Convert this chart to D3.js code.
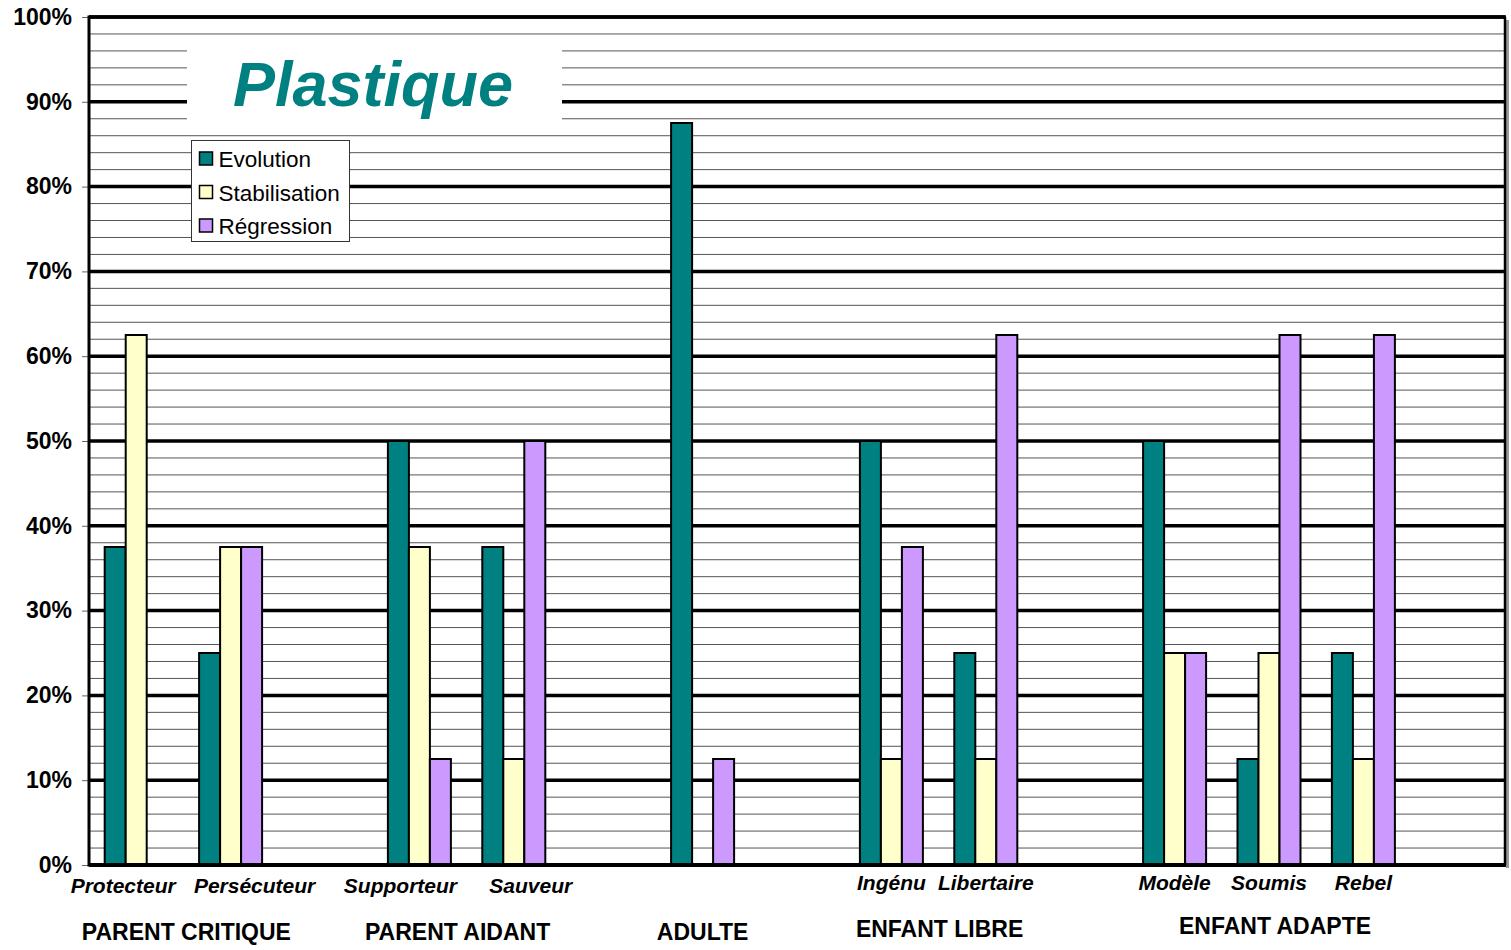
<!DOCTYPE html>
<html>
<head>
<meta charset="utf-8">
<script src="https://cdn.jsdelivr.net/npm/d3@7"></script>
<style>
  body { margin: 0; background: #fff; }
  text { font-family: Arial, "Liberation Sans", sans-serif; }
</style>
</head>
<body>
<script>
// slots along the x axis, "" = empty spacer slot (or no label)
var categories = ["Protecteur", "Persécuteur", "", "Supporteur", "Sauveur", "", "", "",
                  "Ingénu", "Libertaire", "", "Modèle", "Soumis", "Rebel", ""];
var evolution =     [37.5, 25,   null, 50,   37.5, null, 87.5, null, 50,   25,   null, 50, 12.5, 25,   null];
var stabilisation = [62.5, 37.5, null, 37.5, 12.5, null, 0,    null, 12.5, 12.5, null, 25, 25,   12.5, null];
var regression =    [0,    37.5, null, 12.5, 50,   null, 12.5, null, 37.5, 62.5, null, 25, 62.5, 62.5, null];

var seriesNames = ["Evolution", "Stabilisation", "Régression"];
var seriesColors = ["#008080", "#FFFFCC", "#CC99FF"];

var groupNames = ["PARENT CRITIQUE", "PARENT AIDANT", "ADULTE", "ENFANT LIBRE", "ENFANT ADAPTE"];
var groupFirst = [0, 3, 6, 8, 11];
var groupLast =  [1, 4, 6, 9, 13];

var yTicks = [0, 10, 20, 30, 40, 50, 60, 70, 80, 90, 100];
var title = "Plastique";

chart();

function chart()
{
    var width = 1511,
        height = 950;
    var left = 89, right = 1505, top = 17, bottom = 865;

    var svg = d3.select("body").append("svg")
        .attr("width", width)
        .attr("height", height);

    var x = d3.scaleBand()
        .domain(d3.range(categories.length))
        .range([left, right])
        .paddingInner(0.3326)
        .paddingOuter(0.1663);
    var xs = d3.scaleBand()
        .domain(seriesNames)
        .range([0, x.bandwidth()]);
    var y = d3.scaleLinear()
        .domain([0, 100])
        .range([bottom, top]);

    // shadow on the right of the plot area
    svg.append("rect")
        .attr("x", right + 1).attr("y", top + 3)
        .attr("width", 3).attr("height", bottom - top)
        .attr("fill", "#999");

    // minor gridlines every 2%
    svg.append("g").selectAll("line")
        .data(d3.range(2, 100, 2).filter(function (d) { return d % 10 != 0; }))
        .enter().append("line")
        .attr("x1", left).attr("x2", right)
        .attr("y1", function (d) { return y(d); })
        .attr("y2", function (d) { return y(d); })
        .attr("stroke", "#555")
        .attr("stroke-width", 1);

    // major gridlines
    svg.append("g").selectAll("line")
        .data(yTicks.slice(1))
        .enter().append("line")
        .attr("x1", left).attr("x2", right)
        .attr("y1", function (d) { return y(d); })
        .attr("y2", function (d) { return y(d); })
        .attr("stroke", "#000")
        .attr("stroke-width", 3.5);

    // y axis
    var yAxis = d3.axisLeft(y)
        .tickValues(yTicks)
        .tickSize(7)
        .tickPadding(10)
        .tickFormat(function (d) { return d + "%"; });
    var ya = svg.append("g")
        .attr("transform", "translate(" + left + ",0)")
        .call(yAxis);
    ya.select(".domain").remove();
    ya.selectAll(".tick line").attr("stroke", "#666");
    ya.selectAll(".tick text")
        .attr("font-size", 23)
        .attr("font-weight", "bold")
        .attr("font-family", "Arial, 'Liberation Sans', sans-serif")
        .attr("fill", "#000");

    // bars
    var series = [evolution, stabilisation, regression];
    series.forEach(function (vals, si)
    {
        svg.append("g").selectAll("rect")
            .data(vals.map(function (v, i) { return {i: i, v: v}; })
                .filter(function (d) { return d.v; }))
            .enter().append("rect")
            .attr("x", function (d) { return x(d.i) + xs(seriesNames[si]); })
            .attr("y", function (d) { return y(d.v); })
            .attr("width", xs.bandwidth())
            .attr("height", function (d) { return y(0) - y(d.v); })
            .attr("fill", seriesColors[si])
            .attr("stroke", "#000")
            .attr("stroke-width", 2);
    });

    // plot border
    svg.append("line")
        .attr("x1", right).attr("x2", right).attr("y1", top).attr("y2", bottom)
        .attr("stroke", "#000").attr("stroke-width", 2.5);
    svg.append("line")
        .attr("x1", left).attr("x2", left).attr("y1", top - 1.5).attr("y2", bottom + 1.5)
        .attr("stroke", "#000").attr("stroke-width", 3);
    svg.append("line")
        .attr("x1", left).attr("x2", right + 1).attr("y1", bottom).attr("y2", bottom)
        .attr("stroke", "#000").attr("stroke-width", 4);
    svg.append("line")
        .attr("x1", left).attr("x2", right + 1).attr("y1", top).attr("y2", top)
        .attr("stroke", "#000").attr("stroke-width", 3.5);

    // category labels (text boxes sit a little off the slot centres in the original)
    var nudge = {"Protecteur": -13, "Persécuteur": 24, "Supporteur": -19, "Sauveur": 17};
    svg.append("g").selectAll("text")
        .data(categories.map(function (c, i) { return {i: i, c: c}; })
            .filter(function (d) { return d.c; }))
        .enter().append("text")
        .attr("x", function (d) { return x(d.i) + x.bandwidth() / 2 + (nudge[d.c] || 0); })
        .attr("y", function (d) { return d.i < 6 ? 893 : 890; })
        .attr("text-anchor", "middle")
        .attr("font-size", 21)
        .attr("font-weight", "bold")
        .attr("font-style", "italic")
        .text(function (d) { return d.c; });

    // group labels
    var groupY = [940, 940, 940, 937, 934];
    var groupNudge = [3, -9, 0, 1, 6];
    svg.append("g").selectAll("text")
        .data(groupNames)
        .enter().append("text")
        .attr("x", function (d, i)
        {
            return (x(groupFirst[i]) + x(groupLast[i]) + x.bandwidth()) / 2 + groupNudge[i];
        })
        .attr("y", function (d, i) { return groupY[i]; })
        .attr("text-anchor", "middle")
        .attr("font-size", 23)
        .attr("font-weight", "bold")
        .text(function (d) { return d; });

    // title box
    svg.append("rect")
        .attr("x", 187).attr("y", 42)
        .attr("width", 375).attr("height", 86)
        .attr("fill", "#fff");
    svg.append("text")
        .attr("x", 373).attr("y", 106)
        .attr("text-anchor", "middle")
        .attr("font-size", 63)
        .attr("font-weight", "bold")
        .attr("font-style", "italic")
        .attr("fill", "#008080")
        .text(title);

    // legend
    var lg = svg.append("g").attr("transform", "translate(191.5,140.5)");
    lg.append("rect")
        .attr("width", 158).attr("height", 101)
        .attr("fill", "#fff")
        .attr("stroke", "#333")
        .attr("stroke-width", 1);
    var item = lg.selectAll(".item")
        .data(seriesNames)
        .enter().append("g")
        .attr("class", "item")
        .attr("transform", function (d, i) { return "translate(0," + (18.5 + i * 33.5) + ")"; });
    item.append("rect")
        .attr("x", 8).attr("y", -7)
        .attr("width", 13).attr("height", 13)
        .attr("fill", function (d, i) { return seriesColors[i]; })
        .attr("stroke", "#000")
        .attr("stroke-width", 1.5);
    item.append("text")
        .attr("x", 27).attr("y", 8)
        .attr("font-size", 22.5)
        .text(function (d) { return d; });
}
</script>
</body>
</html>
